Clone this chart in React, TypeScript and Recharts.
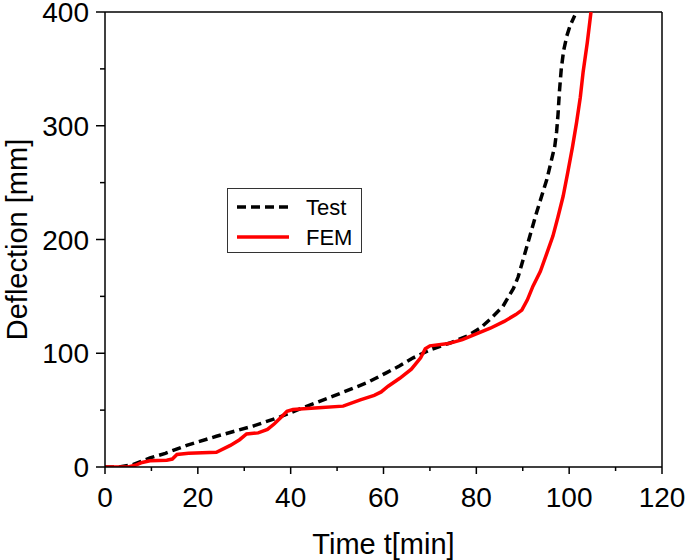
import React from "react";
import {
  LineChart,
  Line,
  XAxis,
  YAxis,
  Legend,
  ReferenceLine,
} from "recharts";

// Test (dashed black) — time [min], deflection [mm]
const testTime = [0, 3, 6, 9.7, 13, 17.6, 24, 31.9, 37.7, 42, 49, 56.4, 60.7, 63.5, 66.4, 70, 74.3, 78, 80.8, 83, 85.7, 88, 89, 90.9, 93, 95.2, 96.9, 97.3, 97.6, 97.9, 98.3, 98.8, 99.5, 100.2, 101.2];
const testDefl = [0, 0, 2, 8, 12, 19, 27, 36, 44, 51, 62, 74, 83, 89, 96, 103, 109, 115, 122, 130, 141, 157, 167, 194, 224, 253, 282, 295, 310, 330, 350, 366, 379, 388, 397];

// FEM (solid red)
const femTime = [0, 5, 6.5, 8, 9.7, 13.3, 14.5, 15.5, 18, 24, 27, 29, 30.5, 33, 35, 36.5, 38, 39.2, 40.5, 42, 46, 51.3, 55, 58, 59.5, 61, 63.5, 66, 68, 69, 70, 74, 77, 80, 83, 86, 88.5, 89.8, 91, 92.2, 93.8, 95.2, 96.5, 97.6, 98.7, 99.7, 100.7, 101.6, 102.4, 103, 103.9, 104.7];
const femDefl = [0, 0, 1.5, 4, 5.5, 6, 7, 11, 12, 13, 19, 24, 29, 30, 33, 38, 44, 49, 50.5, 51, 52, 53.5, 59, 63, 66, 71, 78, 86, 96, 104, 106.5, 108.5, 112, 117, 122, 128, 134, 138, 147, 159, 172, 188, 203, 220, 238, 259, 281, 303, 325, 347, 373, 400];

const xTicks = [0, 10, 20, 30, 40, 50, 60, 70, 80, 90, 100, 110, 120];
const yTicks = [0, 50, 100, 150, 200, 250, 300, 350, 400];

const testData = testTime.map((t, i) => ({ t, d: testDefl[i] }));
const femData = femTime.map((t, i) => ({ t, d: femDefl[i] }));

const FONT = "'Liberation Sans', Arial, sans-serif";

function XTick({ x, y, payload }: any) {
  const major = payload.value % 20 === 0;
  return (
    <g>
      <line x1={x} y1={y} x2={x} y2={y + (major ? 7 : 4)} stroke="#000" strokeWidth={1.5} />
      {major && (
        <text x={x} y={y + 40} textAnchor="middle" fontSize={28} fill="#000" fontFamily={FONT}>
          {payload.value}
        </text>
      )}
    </g>
  );
}

function YTick({ x, y, payload }: any) {
  const major = payload.value % 100 === 0;
  return (
    <g>
      <line x1={x} y1={y} x2={x - (major ? 9 : 5)} y2={y} stroke="#000" strokeWidth={1.5} />
      {major && (
        <text x={x - 16} y={y + 10} textAnchor="end" fontSize={28} fill="#000" fontFamily={FONT}>
          {payload.value}
        </text>
      )}
    </g>
  );
}

function LegendBox() {
  return (
    <svg width={136} height={66} style={{ display: "block" }}>
      <rect x={0.5} y={0.5} width={134} height={64} fill="#fff" stroke="#333" strokeWidth={1} />
      <line x1={10} y1={19} x2={62} y2={19} stroke="#000" strokeWidth={3.5} strokeDasharray="9 5" />
      <text x={79} y={27} fontSize={22} fontFamily={FONT} fill="#000">Test</text>
      <line x1={10} y1={49} x2={62} y2={49} stroke="#ff0000" strokeWidth={3.5} />
      <text x={79} y={57} fontSize={22} fontFamily={FONT} fill="#000">FEM</text>
    </svg>
  );
}

export default function App() {
  return (
    <div style={{ position: "absolute", left: 0, top: 0, width: 685, height: 560, background: "#fff" }}>
      <LineChart width={685} height={560} margin={{ top: 12, right: 23, left: 0, bottom: 0 }}>
        <XAxis
          type="number"
          dataKey="t"
          domain={[0, 120]}
          ticks={xTicks}
          interval={0}
          height={93}
          tickSize={0}
          tickMargin={0}
          tickLine={false}
          tick={<XTick />}
          axisLine={{ stroke: "#000", strokeWidth: 1.5 }}
          allowDataOverflow
          label={{ value: "Time t[min]", position: "insideBottom", offset: 6, fontSize: 29, fill: "#000", fontFamily: FONT }}
        />
        <YAxis
          type="number"
          dataKey="d"
          domain={[0, 400]}
          ticks={yTicks}
          interval={0}
          width={105}
          tickSize={0}
          tickMargin={0}
          tickLine={false}
          tick={<YTick />}
          axisLine={{ stroke: "#000", strokeWidth: 1.5 }}
          allowDataOverflow
          label={{ value: "Deflection [mm]", angle: -90, position: "insideLeft", offset: 17, fontSize: 29, fill: "#000", fontFamily: FONT, style: { textAnchor: "middle" } }}
        />
        <ReferenceLine y={400} stroke="#000" strokeWidth={1.5} />
        <ReferenceLine x={120} stroke="#000" strokeWidth={1.5} />
        <Legend
          layout="horizontal"
          verticalAlign="middle"
          align="center"
          content={() => <LegendBox />}
          wrapperStyle={{ left: 227, top: 188, width: 136, height: 66 }}
        />
        <Line
          data={testData}
          dataKey="d"
          type="linear"
          stroke="#000"
          strokeWidth={3.5}
          strokeDasharray="9 5"
          dot={false}
          isAnimationActive={false}
          name="Test"
        />
        <Line
          data={femData}
          dataKey="d"
          type="linear"
          stroke="#ff0000"
          strokeWidth={3.5}
          dot={false}
          isAnimationActive={false}
          name="FEM"
        />
      </LineChart>
    </div>
  );
}
